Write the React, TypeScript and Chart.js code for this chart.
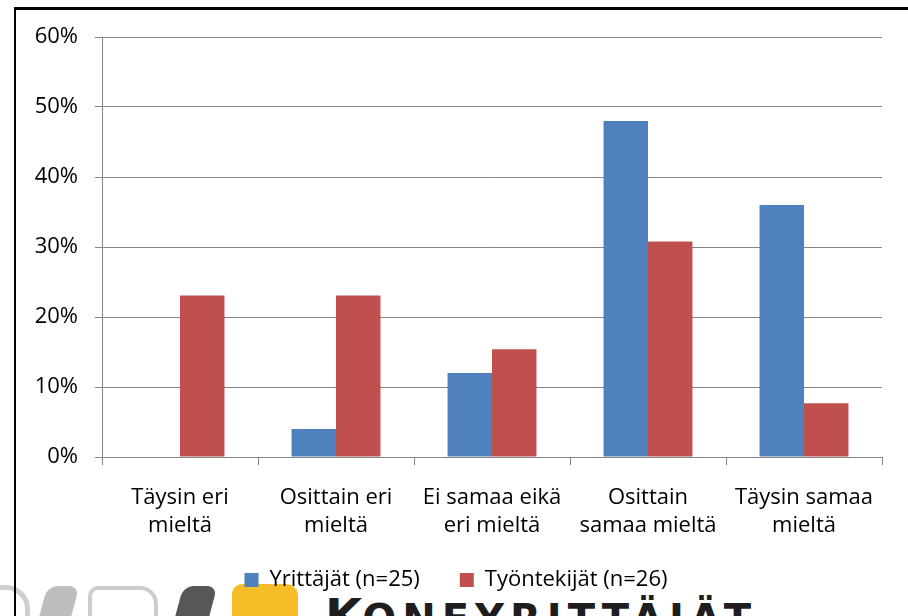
import React, { useEffect, useRef } from "react";
import { Chart, registerables } from "chart.js";

Chart.register(...registerables);

const categories: string[][] = [
  ["Täysin eri", "mieltä"],
  ["Osittain eri", "mieltä"],
  ["Ei samaa eikä", "eri mieltä"],
  ["Osittain", "samaa mieltä"],
  ["Täysin samaa", "mieltä"],
];
const yrittajat = [0, 4, 12, 48, 36];
const tyontekijat = [23.08, 23.08, 15.38, 30.77, 7.69];
const seriesNames = ["Yrittäjät (n=25)", "Työntekijät (n=26)"];

const FONT = "'Open Sans', sans-serif";

const legendShift = {
  id: "legendShift",
  afterLayout(chart: any) {
    const l = chart.legend;
    if (l) {
      l.left += 15;
      l.right += 15;
      l.top -= 15;
      l.bottom -= 15;
    }
  },
};

export default function App() {
  const ref = useRef<HTMLCanvasElement>(null);
  useEffect(() => {
    if (!ref.current) return;
    const chart = new Chart(ref.current, {
      type: "bar",
      data: {
        labels: categories,
        datasets: [
          { label: seriesNames[0], data: yrittajat, backgroundColor: "#4F81BD", categoryPercentage: 0.57, barPercentage: 1 },
          { label: seriesNames[1], data: tyontekijat, backgroundColor: "#C0504D", categoryPercentage: 0.57, barPercentage: 1 },
        ],
      },
      plugins: [legendShift],
      options: {
        animation: false,
        responsive: false,
        layout: { padding: { top: 37, right: 26, bottom: 0, left: 0 } },
        plugins: {
          tooltip: { enabled: false },
          legend: {
            position: "bottom",
            labels: { font: { family: FONT, size: 22 }, color: "#000", boxWidth: 14, boxHeight: 14, padding: 40 },
          },
        },
        scales: {
          x: {
            grid: { drawOnChartArea: false, drawTicks: true, offset: true, tickLength: 8, color: "#868686" },
            border: { color: "#868686", width: 1 },
            ticks: { font: { family: FONT, size: 22, lineHeight: 1.27 }, color: "#000", padding: 19, maxRotation: 0 },
            afterFit: (s: any) => { s.height = 87; },
          },
          y: {
            min: 0,
            max: 60,
            ticks: { stepSize: 10, font: { family: FONT, size: 22 }, color: "#000", padding: 17, callback: (v: any) => v + "%" },
            grid: { color: "#868686", tickLength: 7 },
            border: { color: "#868686", width: 1 },
            afterFit: (s: any) => { s.width = 102; },
          },
        },
      },
    });
    return () => chart.destroy();
  }, []);
  return (
    <div style={{ position: "fixed", left: 0, top: 0, width: 908, height: 616, background: "#fff", overflow: "hidden" }}>
      <div style={{ position: "absolute", left: -30, top: 585, width: 50, height: 60, border: "5px solid #cfcfcf", borderRadius: 24 }} />
      <div style={{ position: "absolute", left: 42, top: 586, width: 32, height: 40, background: "#bdbdbd", borderRadius: "10px 10px 0 0", transform: "skewX(-15deg)" }} />
      <div style={{ position: "absolute", left: 88, top: 586, width: 62, height: 40, border: "4px solid #cccccc", borderRadius: "10px 18px 0 0" }} />
      <div style={{ position: "absolute", left: 178, top: 586, width: 34, height: 40, background: "#575757", borderRadius: "10px 10px 0 0", transform: "skewX(-15deg)" }} />
      <div style={{ position: "absolute", left: 232, top: 584, width: 66, height: 40, background: "#F6BD27", borderRadius: "10px 12px 0 0" }} />
      <div style={{ position: "absolute", left: 325, top: 592, fontFamily: "'DejaVu Sans', sans-serif", fontWeight: 900, fontSize: 48, lineHeight: "48px", color: "#1e1e1e", whiteSpace: "nowrap" }}>
        K<span style={{ fontSize: 40, letterSpacing: 6 }}>ONEYRITTÄJÄT</span>
      </div>
      <canvas ref={ref} width={908} height={616} style={{ position: "absolute", left: 0, top: 0 }} />
      <div style={{ position: "absolute", left: 14, top: 7, width: 1000, height: 700, borderTop: "3px solid #000", borderLeft: "2px solid #000" }} />
    </div>
  );
}
